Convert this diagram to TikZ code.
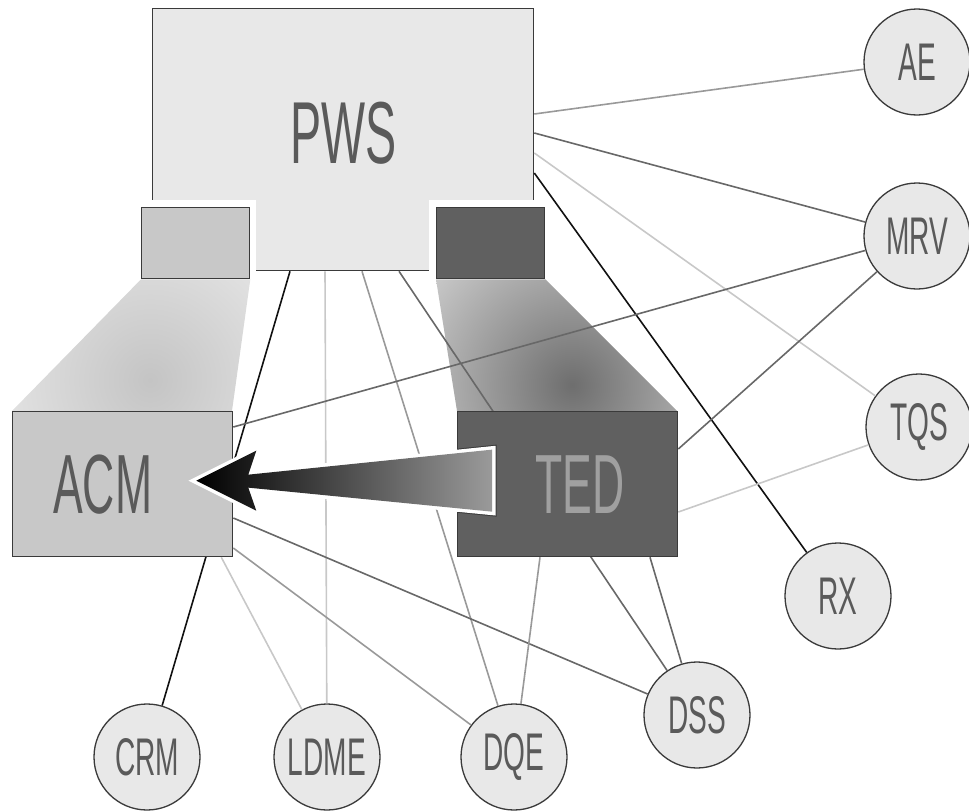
\documentclass[tikz,border=0pt]{standalone}
\usepackage{fontspec}
\newfontfamily\cf[FakeStretch=0.53]{Liberation Sans}
\usetikzlibrary{calc}
\definecolor{bord}{HTML}{3A3A3A}
\definecolor{pwsfill}{HTML}{E8E8E8}
\definecolor{lightbox}{HTML}{C8C8C8}
\definecolor{darkbox}{HTML}{606060}
\definecolor{txt}{HTML}{5A5A5A}
\definecolor{tedtxt}{HTML}{A0A0A0}
\definecolor{cfill}{HTML}{E8E8E8}
\definecolor{gLight}{HTML}{C8C8C8}
\definecolor{gMid}{HTML}{999999}
\definecolor{gDark}{HTML}{686868}
\definecolor{gBlack}{HTML}{111111}
\definecolor{coneL}{HTML}{C4C4C4}
\definecolor{coneR}{HTML}{6E6E6E}
\definecolor{arrgray}{HTML}{9A9A9A}
\begin{document}
\begin{tikzpicture}[x=1pt,y=-1pt,
  box/.style={draw=bord, line width=1.3pt, inner sep=0pt, anchor=north west},
  bigtxt/.style={font=\cf\fontsize{84}{84}\selectfont, text=txt},
  circ/.style={circle, draw=bord, line width=1.3pt, fill=cfill, minimum size=106pt, inner sep=0pt,
    font=\cf\fontsize{53}{53}\selectfont, text=txt},
  eLight/.style={draw=gLight, line width=1.6pt},
  eMid/.style={draw=gMid, line width=1.6pt},
  eDark/.style={draw=gDark, line width=1.6pt},
  eBlack/.style={draw=gBlack, line width=1.6pt}]
\useasboundingbox (0,0) rectangle (969,811);

% main boxes
\node[box, fill=pwsfill, minimum width=381pt, minimum height=262pt,
  label={[font=\cf\fontsize{88}{88}\selectfont, text=txt, yshift=6pt]center:PWS}] (PWS) at (152,8) {};
% white bands and small boxes
\fill[white] (134,200) rectangle (256,285);
\fill[white] (429,200) rectangle (551,285);
\node[box, fill=lightbox, minimum width=108pt, minimum height=71pt] (Ls) at (141,207) {};
\node[box, fill=darkbox, minimum width=108pt, minimum height=71pt] (Rs) at (436,207) {};

% cones
\begin{scope}
\clip (Ls.south west) -- (Ls.south east) -- (232,411) -- (12,411) -- cycle;
\shade[inner color=coneL, outer color=white] (150,380) circle[radius=290pt];
\end{scope}
\begin{scope}
\clip (Rs.south west) -- (Rs.south east) -- (677,411) -- (457,411) -- cycle;
\shade[inner color=coneR, outer color=white] (572,385) circle[radius=280pt];
\end{scope}

% circles
\node[circ] (AE) at (917,62) {AE};
\node[circ] (MRV) at (917,236) {MRV};
\node[circ] (TQS) at (919,427) {TQS};
\node[circ] (RX) at (838,596) {RX};
\node[circ] (DSS) at (697,715) {DSS};
\node[circ] (DQE) at (514,757) {DQE};
\node[circ] (LDME) at (327,757) {LDME};
\node[circ] (CRM) at (147,757) {CRM};

% edges from PWS
\draw[eMid] ($(PWS.north east)+(0,106)$) -- (AE);
\draw[eDark] ($(PWS.north east)+(0,125)$) -- (MRV);
\draw[eLight] ($(PWS.north east)+(0,145)$) -- (TQS);
\draw[eBlack] ($(PWS.north east)+(0,165)$) -- (RX);
\draw[eBlack] ($(PWS.south west)+(138,0)$) -- (CRM);
\draw[eLight] ($(PWS.south west)+(173,0)$) -- (LDME);
\draw[eMid] ($(PWS.south west)+(210,0)$) -- (DQE);
\draw[eDark] ($(PWS.south west)+(247,0)$) -- (DSS);

% ACM and TED boxes
\node[box, fill=lightbox, minimum width=220pt, minimum height=145pt,
  label={[bigtxt, xshift=-20pt]center:ACM}] (ACM) at (12,411) {};
\node[box, fill=darkbox, minimum width=220pt, minimum height=145pt,
  label={[bigtxt, text=tedtxt, xshift=12pt]center:TED}] (TED) at (457,411) {};

% edges from ACM
\draw[eDark] ($(ACM.north east)+(0,16)$) -- (MRV);
\draw[eDark] ($(ACM.north east)+(0,107)$) -- (DSS);
\draw[eMid] ($(ACM.north east)+(0,137)$) -- (DQE);
\draw[eLight] ($(ACM.south east)+(-12,0)$) -- (LDME);
% edges from TED
\draw[eDark] ($(TED.north east)+(0,38)$) -- (MRV);
\draw[eLight] ($(TED.north east)+(0,101)$) -- (TQS);
\draw[eMid] ($(TED.south west)+(83,0)$) -- (DQE);
\draw[eDark] ($(TED.south west)+(193,0)$) -- (DSS);

% big arrow TED -> ACM
\coordinate (aS) at ($(TED.west)+(35,-3.5)$);
\coordinate (aT) at ($(ACM.east)+(-37,-3.5)$);
\def\arrowpath{($(aS)+(0,-31)$) -- ($(aT)+(52,-6)$) -- ($(aT)+(60,-30)$) -- (aT) --
  ($(aT)+(60,30)$) -- ($(aT)+(52,7)$) -- ($(aS)+(0,31)$) -- cycle}
\begin{scope}
\clip (TED.north west) rectangle (TED.south east);
\draw[bord, line width=9pt, line join=miter] \arrowpath;
\end{scope}
\draw[white, line width=7pt, line join=miter] \arrowpath;
\shade[left color=black, right color=arrgray] \arrowpath;
\end{tikzpicture}
\end{document}
